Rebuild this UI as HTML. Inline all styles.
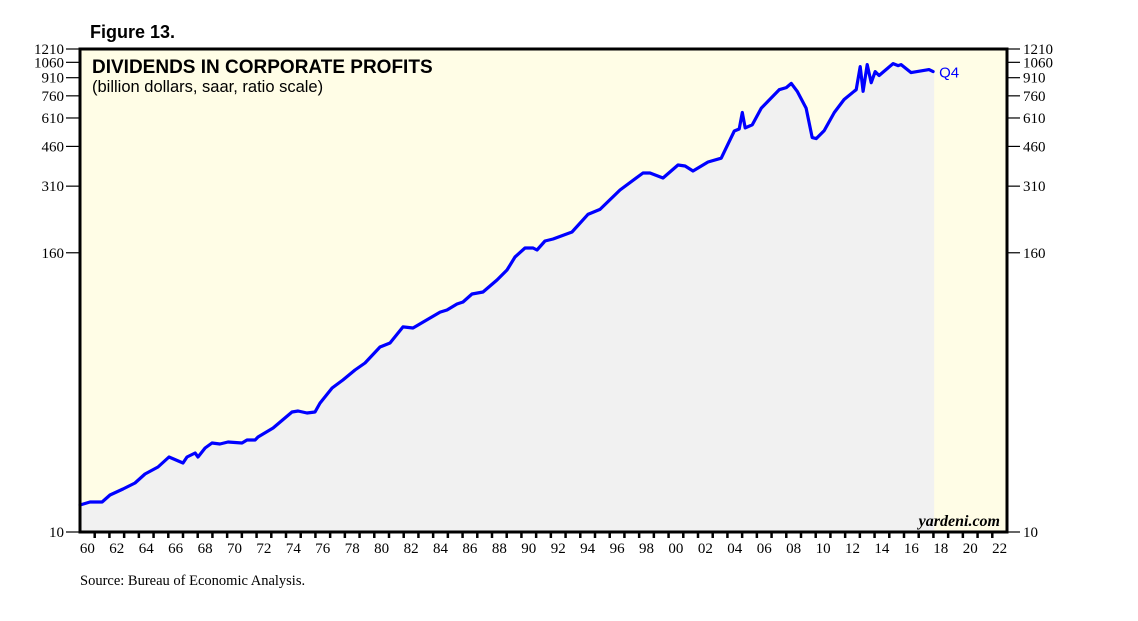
<!DOCTYPE html>
<html><head><meta charset="utf-8"><style>
body{margin:0;background:#fff;}
svg{display:block;font-family:"Liberation Serif",serif;}
</style></head><body>
<svg id="chart" width="1138" height="621">
<text x="90" y="38" font-family="Liberation Sans, sans-serif" font-weight="bold" font-size="18">Figure 13.</text>
<rect x="80" y="49" width="927" height="483" fill="#fffde6"/>
<g id="marks"></g>
<rect x="80" y="49" width="927" height="483" fill="none" stroke="#000" stroke-width="3"/>
<text x="92" y="73" font-family="Liberation Sans, sans-serif" font-weight="bold" font-size="19">DIVIDENDS IN CORPORATE PROFITS</text>
<text x="92" y="92" font-family="Liberation Sans, sans-serif" font-size="16.5">(billion dollars, saar, ratio scale)</text>
<text x="1000" y="526" text-anchor="end" font-style="italic" font-weight="bold" font-size="16">yardeni.com</text>
<text x="80" y="585" font-size="14.5">Source: Bureau of Economic Analysis.</text>
<g id="axes"></g>
</svg>
<script>
const years=[1960.0,1960.68,1961.5,1962.04,1962.92,1963.74,1964.42,1965.3,1966.05,1967.0,1967.27,1967.82,1968.02,1968.5,1968.97,1969.51,1970.06,1971.01,1971.35,1971.9,1972.1,1973.12,1974.41,1974.82,1975.43,1975.97,1976.31,1977.13,1977.87,1978.69,1979.37,1980.39,1981.07,1981.95,1982.63,1983.31,1984.47,1984.94,1985.62,1986.03,1986.64,1987.39,1988.34,1989.02,1989.56,1990.24,1990.79,1991.06,1991.6,1992.15,1993.44,1994.52,1995.34,1996.7,1998.26,1998.74,1999.62,2000.64,2001.12,2001.66,2002.68,2003.58,2004.47,2004.8,2005.01,2005.21,2005.69,2006.3,2006.64,2007.52,2008.0,2008.34,2008.74,2009.35,2009.76,2010.03,2010.58,2011.26,2011.93,2012.61,2012.75,2013.02,2013.22,2013.5,2013.77,2014.04,2014.31,2015.26,2015.6,2015.8,2016.48,2017.7,2017.98];
const dividends=[13.07,13.47,13.47,14.44,15.33,16.27,17.79,19.07,21.06,19.84,21.06,21.91,21.06,23.03,24.2,23.96,24.44,24.2,24.93,24.93,25.68,28.08,32.92,33.25,32.6,32.92,35.97,41.78,45.23,49.96,53.55,62.8,65.3,76.6,75.8,80.4,88.8,90.6,96.2,98.1,106.2,108.4,122.1,134.8,153.4,167.8,167.8,164.4,179.8,183.4,196.6,234.1,246.0,298.4,353.2,353.2,336.1,382.3,378.5,360.3,393.9,409,536,547,644,553,570,673,708,808,825,860,795,673,502,497,538,644,733,795,808,1016,795,1036,866,967,930,1047,1026,1036,957,986,967];
const yTicks=[10,160,310,460,610,760,910,1060,1210];
const xLabels=[60,62,64,66,68,70,72,74,76,78,80,82,84,86,88,90,92,94,96,98,0,2,4,6,8,10,12,14,16,18,20,22];
const L=80,R=1007,T=49,B=532,Y0=1960,Y1=2023;
const xs=y=>L+(y-Y0)/(Y1-Y0)*(R-L);
const ys=v=>B-(Math.log10(v)-1)/(Math.log10(1210)-1)*(B-T);
const NS="http://www.w3.org/2000/svg";
function mk(tag,attrs,parent){const e=document.createElementNS(NS,tag);for(const k in attrs)e.setAttribute(k,attrs[k]);parent.appendChild(e);return e;}
const marks=document.getElementById('marks'),axes=document.getElementById('axes');
let pts=years.map((y,i)=>xs(y).toFixed(1)+','+ys(dividends[i]).toFixed(1));
const endX=xs(years[years.length-1])+1;
const area=mk('polygon',{points:xs(1960)+','+B+' '+pts.join(' ')+' '+endX+','+pts[pts.length-1].split(',')[1]+' '+endX+','+B,fill:'#f1f1f1'},marks);


const line=mk('polyline',{points:pts.join(' '),fill:'none',stroke:'#0000ff','stroke-width':3.2,'stroke-linejoin':'round','stroke-linecap':'round'},marks);


const q=mk('text',{x:endX+5,y:ys(dividends[dividends.length-1])+6,fill:'#0000ff','font-family':'Liberation Sans, sans-serif','font-size':15},marks);
q.textContent='Q4';


yTicks.forEach(v=>{const y=ys(v);
 mk('line',{x1:66,x2:L,y1:y,y2:y,stroke:'#000','stroke-width':1.2},axes);
 mk('line',{x1:R,x2:R+13,y1:y,y2:y,stroke:'#000','stroke-width':1.2},axes);
 const a=mk('text',{x:64,y:y+5,'text-anchor':'end','font-size':15},axes);a.textContent=v;
 
 
 const b=mk('text',{x:R+16,y:y+5,'font-size':15},axes);b.textContent=v;
 
 
});
for(let yr=Y0+1;yr<Y1;yr++){const x=xs(yr);
 mk('line',{x1:x,x2:x,y1:B,y2:B+6,stroke:'#000','stroke-width':2.5},axes);}
xLabels.forEach((lab,i)=>{const yr=Y0+i*2;
 const t=mk('text',{x:xs(yr+0.5),y:553,'text-anchor':'middle','font-size':15},axes);
 t.textContent=String(lab).padStart(2,'0');
 
 
});
</script>
</body></html>
